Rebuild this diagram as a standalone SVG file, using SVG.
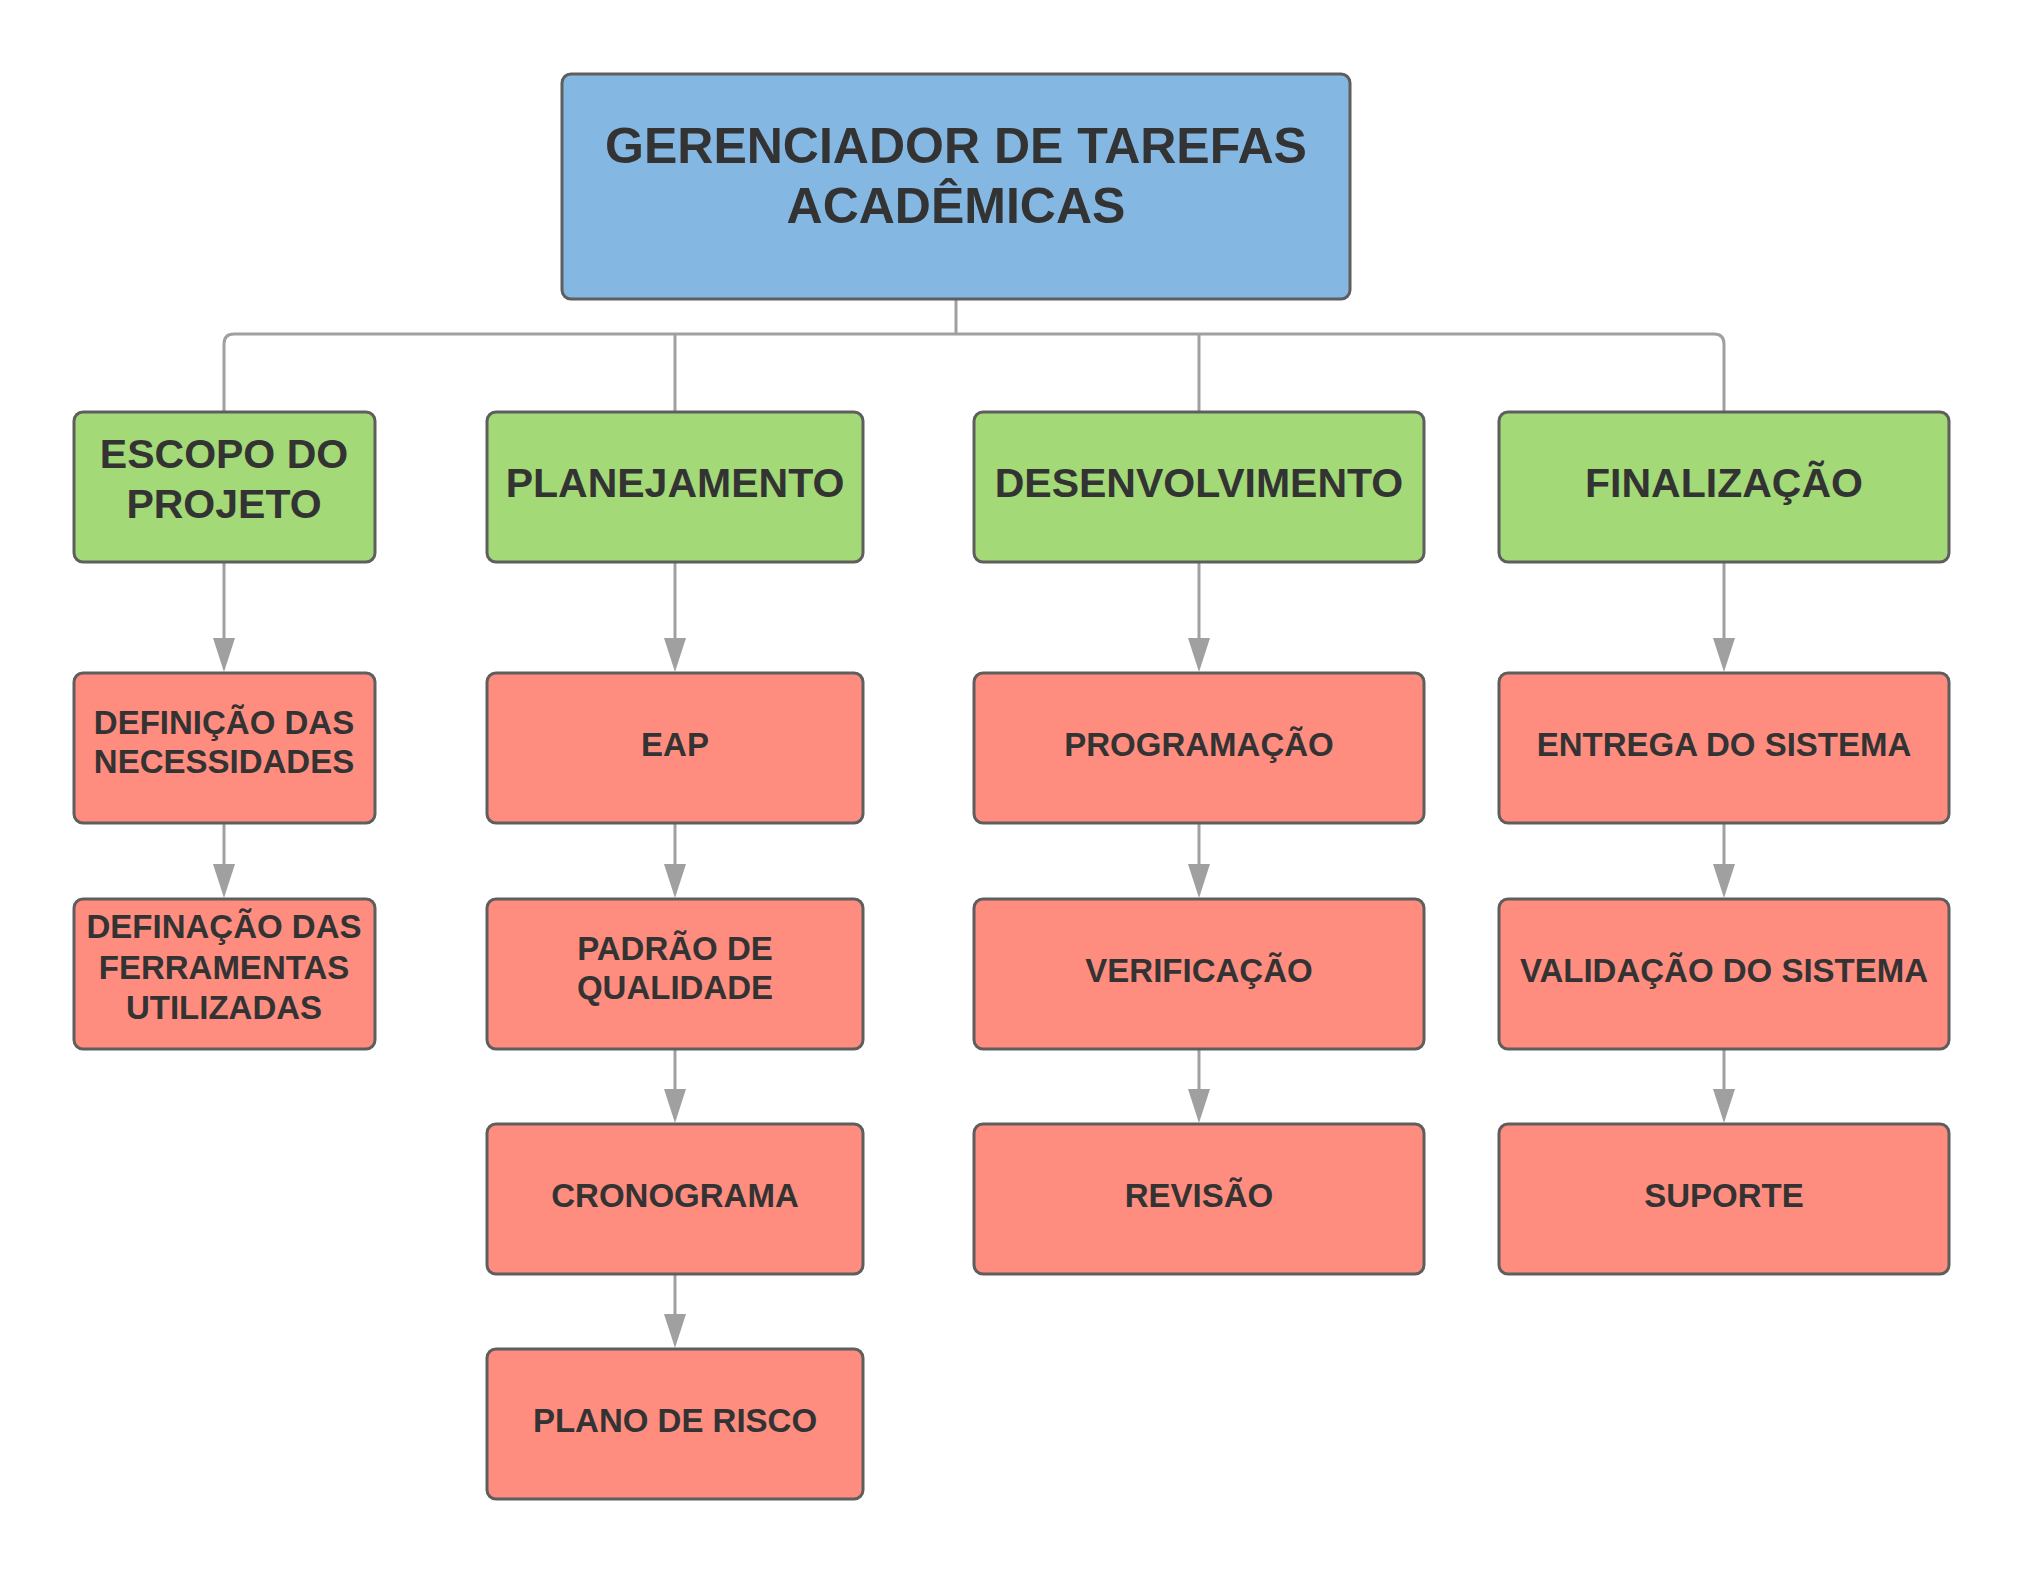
<svg xmlns="http://www.w3.org/2000/svg" width="2027" height="1575" viewBox="0 0 2027 1575">
<style>
.box{stroke:#5e5e5e;stroke-width:3}
.root{fill:#84b8e2}
.grp{fill:#a3d977}
.task{fill:#ff8d7f}
text{font-family:"Liberation Sans",Arial,sans-serif;font-weight:bold;fill:#333333;text-anchor:middle}
.t0{font-size:50px}
.t1{font-size:41px}
.t2{font-size:33px}
.conn{fill:none;stroke:#a0a0a0;stroke-width:3}
</style>
<defs>
<marker id="ah" markerUnits="userSpaceOnUse" markerWidth="34" markerHeight="22" refX="0" refY="11" orient="auto" viewBox="0 0 34 22">
<path d="M0,0 L34,11 L0,22 Z" fill="#a0a0a0"/>
</marker>
</defs>
<rect width="2027" height="1575" fill="#ffffff"/>
<g id="connectors">
<path class="conn" d="M956,299 V334"/>
<path class="conn" d="M224,412 V344 Q224,334 234,334 H1714 Q1724,334 1724,344 V412"/>
<path class="conn" d="M675,334 V412"/>
<path class="conn" d="M1199,334 V412"/>
<path class="conn" d="M224,563 V638" marker-end="url(#ah)"/>
<path class="conn" d="M224,824 V864" marker-end="url(#ah)"/>
<path class="conn" d="M675,563 V638" marker-end="url(#ah)"/>
<path class="conn" d="M675,824 V864" marker-end="url(#ah)"/>
<path class="conn" d="M675,1050 V1089" marker-end="url(#ah)"/>
<path class="conn" d="M675,1275 V1314" marker-end="url(#ah)"/>
<path class="conn" d="M1199,563 V638" marker-end="url(#ah)"/>
<path class="conn" d="M1199,824 V864" marker-end="url(#ah)"/>
<path class="conn" d="M1199,1050 V1089" marker-end="url(#ah)"/>
<path class="conn" d="M1724,563 V638" marker-end="url(#ah)"/>
<path class="conn" d="M1724,824 V864" marker-end="url(#ah)"/>
<path class="conn" d="M1724,1050 V1089" marker-end="url(#ah)"/>
</g>
<g id="root">
<rect class="box root" x="562" y="74" width="788" height="225" rx="9"/>
<text class="t0" x="956" y="163">GERENCIADOR DE TAREFAS</text>
<text class="t0" x="956" y="223">ACADÊMICAS</text>
</g>
<g id="escopo">
<rect class="box grp" x="74" y="412" width="301" height="150" rx="9"/>
<text class="t1" x="224" y="468">ESCOPO DO</text>
<text class="t1" x="224" y="518">PROJETO</text>
</g>
<g id="planejamento">
<rect class="box grp" x="487" y="412" width="376" height="150" rx="9"/>
<text class="t1" x="675" y="497">PLANEJAMENTO</text>
</g>
<g id="desenvolvimento">
<rect class="box grp" x="974" y="412" width="450" height="150" rx="9"/>
<text class="t1" x="1199" y="497">DESENVOLVIMENTO</text>
</g>
<g id="finalizacao">
<rect class="box grp" x="1499" y="412" width="450" height="150" rx="9"/>
<text class="t1" x="1724" y="497">FINALIZAÇÃO</text>
</g>
<g id="definicao-necessidades">
<rect class="box task" x="74" y="673" width="301" height="150" rx="9"/>
<text class="t2" x="224" y="734">DEFINIÇÃO DAS</text>
<text class="t2" x="224" y="773">NECESSIDADES</text>
</g>
<g id="definacao-ferramentas">
<rect class="box task" x="74" y="899" width="301" height="150" rx="9"/>
<text class="t2" x="224" y="938">DEFINAÇÃO DAS</text>
<text class="t2" x="224" y="979">FERRAMENTAS</text>
<text class="t2" x="224" y="1019">UTILIZADAS</text>
</g>
<g id="eap">
<rect class="box task" x="487" y="673" width="376" height="150" rx="9"/>
<text class="t2" x="675" y="756">EAP</text>
</g>
<g id="padrao-qualidade">
<rect class="box task" x="487" y="899" width="376" height="150" rx="9"/>
<text class="t2" x="675" y="960">PADRÃO DE</text>
<text class="t2" x="675" y="999">QUALIDADE</text>
</g>
<g id="cronograma">
<rect class="box task" x="487" y="1124" width="376" height="150" rx="9"/>
<text class="t2" x="675" y="1207">CRONOGRAMA</text>
</g>
<g id="plano-risco">
<rect class="box task" x="487" y="1349" width="376" height="150" rx="9"/>
<text class="t2" x="675" y="1432">PLANO DE RISCO</text>
</g>
<g id="programacao">
<rect class="box task" x="974" y="673" width="450" height="150" rx="9"/>
<text class="t2" x="1199" y="756">PROGRAMAÇÃO</text>
</g>
<g id="verificacao">
<rect class="box task" x="974" y="899" width="450" height="150" rx="9"/>
<text class="t2" x="1199" y="982">VERIFICAÇÃO</text>
</g>
<g id="revisao">
<rect class="box task" x="974" y="1124" width="450" height="150" rx="9"/>
<text class="t2" x="1199" y="1207">REVISÃO</text>
</g>
<g id="entrega">
<rect class="box task" x="1499" y="673" width="450" height="150" rx="9"/>
<text class="t2" x="1724" y="756">ENTREGA DO SISTEMA</text>
</g>
<g id="validacao">
<rect class="box task" x="1499" y="899" width="450" height="150" rx="9"/>
<text class="t2" x="1724" y="982">VALIDAÇÃO DO SISTEMA</text>
</g>
<g id="suporte">
<rect class="box task" x="1499" y="1124" width="450" height="150" rx="9"/>
<text class="t2" x="1724" y="1207">SUPORTE</text>
</g>
</svg>
